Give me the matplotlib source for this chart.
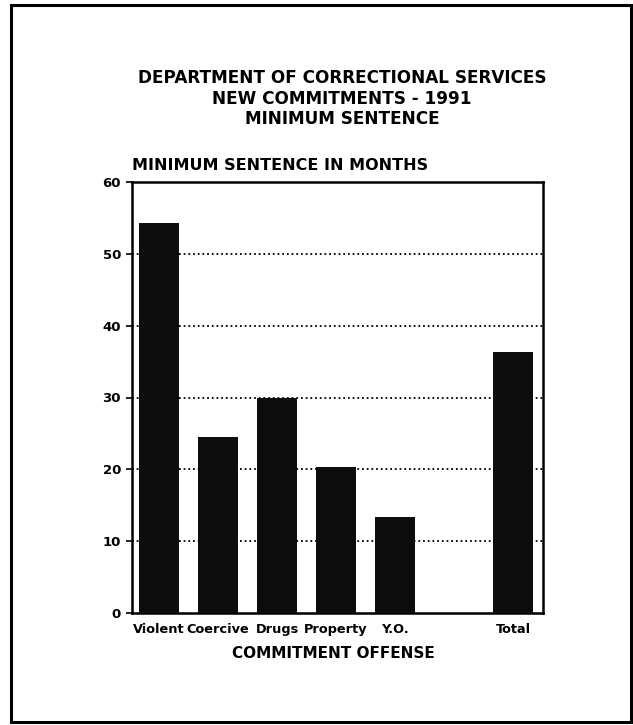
import matplotlib
matplotlib.use("Agg")
import matplotlib.pyplot as plt
from matplotlib.patches import Rectangle

categories = ["Violent", "Coercive", "Drugs", "Property", "Y.O.", "", "Total"]
months = [54.3, 24.5, 30.0, 20.3, 13.3, 0, 36.4]
yticks = [0, 10, 20, 30, 40, 50, 60]

plt.rcParams["font.family"] = ["DejaVu Sans"]
plt.rcParams["font.weight"] = "bold"

W, H = 633, 725
fig = plt.figure(figsize=(W / 100, H / 100), dpi=100)
ax = fig.add_axes([132 / W, 1 - 613 / H, 411 / W, 431 / H])

x = list(range(len(categories)))
ax.bar(x, months, width=0.68, color="#0d0d0d", zorder=3)
ax.set_xlim(-0.458, 6.508)
ax.set_ylim(0, 60)
ax.set_yticks(yticks)
ax.set_xticks(x)
ax.set_xticklabels(categories, fontsize=9.3, fontweight="bold")
ax.tick_params(axis="x", length=0, pad=7)
ax.tick_params(axis="y", direction="out", length=4, width=1.2, labelsize=9.5, pad=4)
for t in ax.get_yticklabels():
    t.set_fontweight("bold")
for y in yticks[1:-1]:
    ax.axhline(y, color="black", ls=(0, (1, 1.6)), lw=1.3, zorder=1)
for s in ax.spines.values():
    s.set_linewidth(1.8)

fig.text(333 / W, 1 - 653 / H, "COMMITMENT OFFENSE", fontsize=11,
         fontweight="bold", ha="center", va="center")
fig.text(132 / W, 1 - 166 / H, "MINIMUM SENTENCE IN MONTHS", fontsize=11.5,
         fontweight="bold", ha="left", va="center")
for i, line in enumerate(["DEPARTMENT OF CORRECTIONAL SERVICES",
                          "NEW COMMITMENTS - 1991", "MINIMUM SENTENCE"]):
    fig.text(342 / W, 1 - (78 + 20.5 * i) / H, line, fontsize=12.2,
             fontweight="bold", ha="center", va="center")

fig.patches.append(Rectangle((11 / W, 1 - 722 / H), 620 / W, 717 / H,
                             transform=fig.transFigure, fill=False,
                             edgecolor="black", lw=2.2))

fig.savefig("out.png", dpi=100)
